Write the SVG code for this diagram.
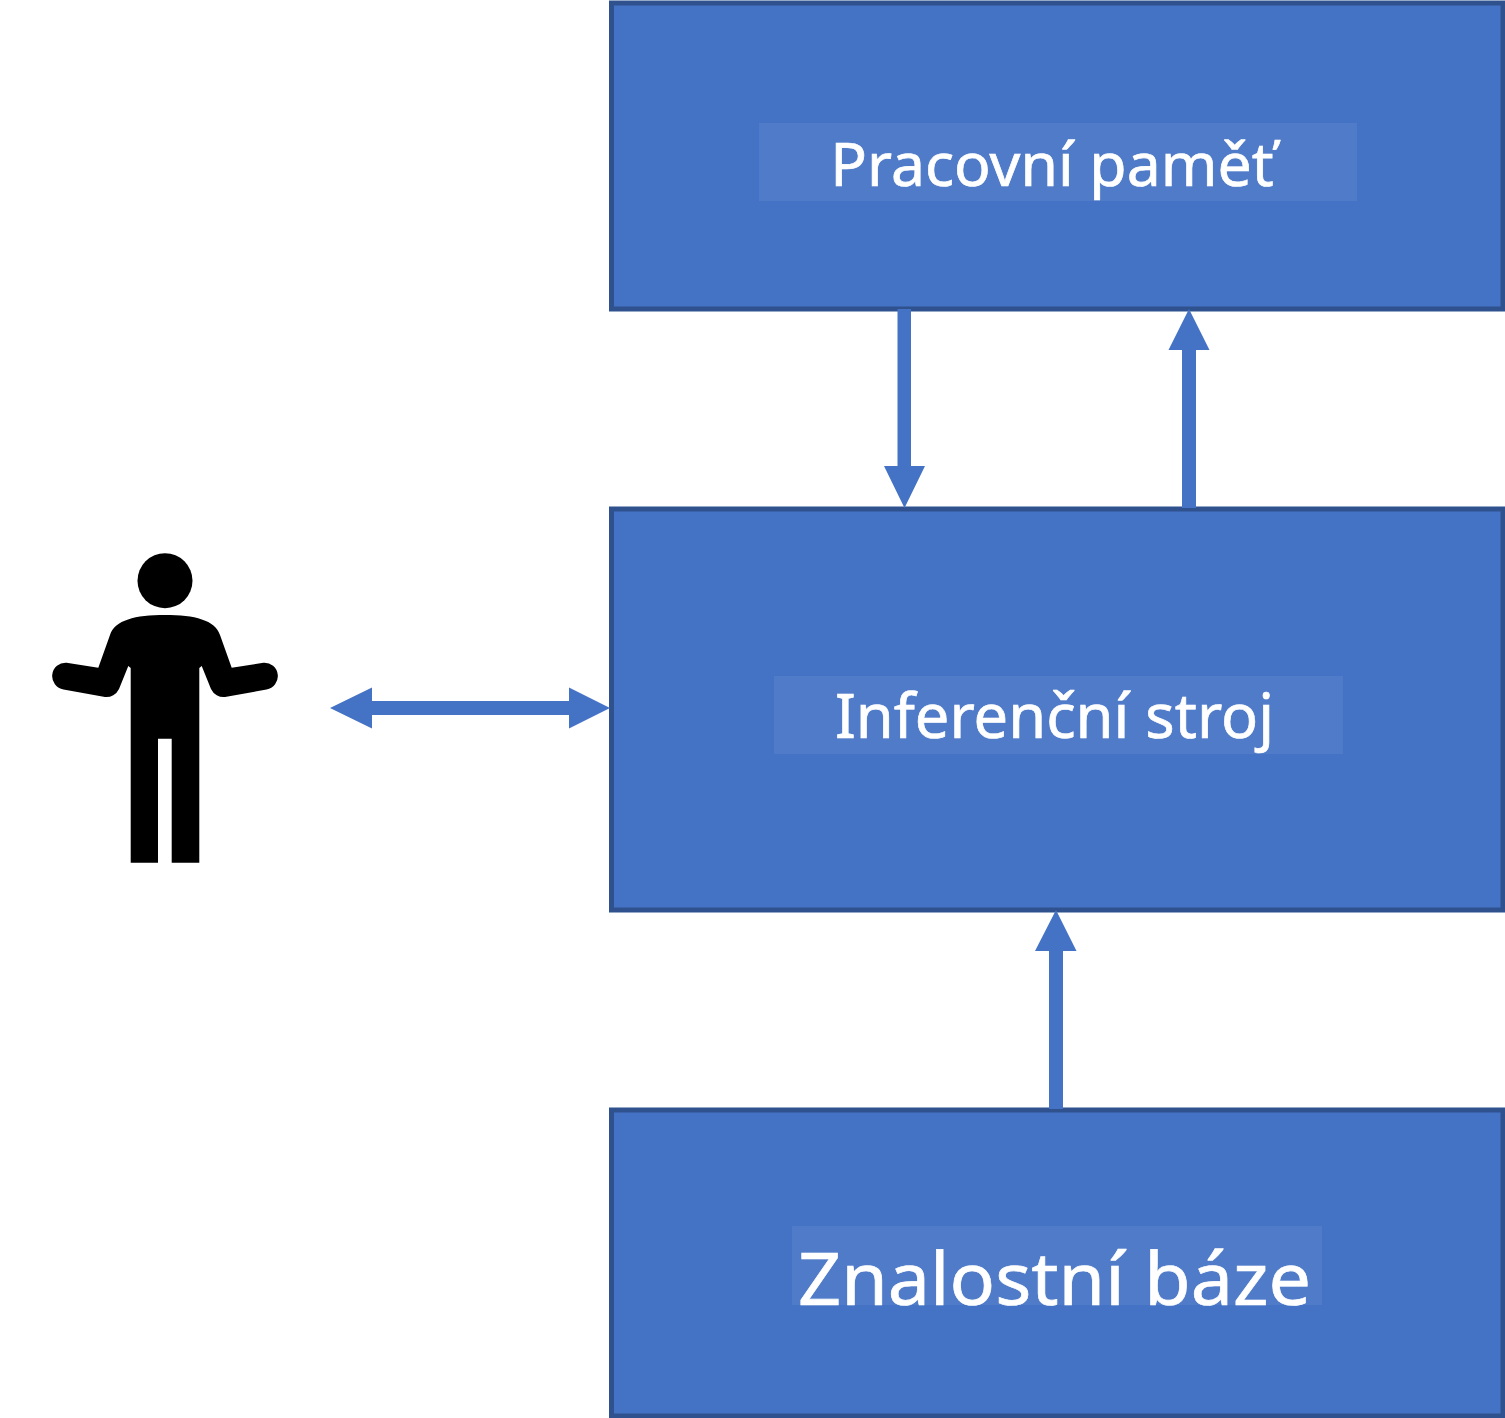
<svg xmlns="http://www.w3.org/2000/svg" width="1505" height="1418" viewBox="0 0 1505 1418">
<style>
.box{fill:#4472c4;stroke:#2f528f;stroke-width:5}
.band{fill:#4f7bc8}
.lbl{font-family:"Noto Sans","Open Sans","Liberation Sans",sans-serif;fill:#fff;text-anchor:middle;stroke:#fff;stroke-width:.7}
.arrow{fill:#4472c4}
</style>
<rect width="1505" height="1418" fill="#fff"/>
<g id="node-working-memory">
<rect class="box" x="611.500" y="3" width="891.500" height="306"/>
<rect class="band" x="759" y="123" width="598" height="78"/>
<text class="lbl" x="1052" y="186" font-size="60.700">Pracovní paměť</text>
</g>
<g id="node-inference-engine">
<rect class="box" x="611.500" y="509" width="891.500" height="401"/>
<rect class="band" x="774" y="676" width="569" height="78"/>
<text class="lbl" x="1054.500" y="738" font-size="61.400">Inferenční stroj</text>
</g>
<g id="node-knowledge-base">
<rect class="box" x="611.500" y="1110" width="891.500" height="306"/>
<rect class="band" x="792" y="1226" width="530" height="79"/>
<text class="lbl" x="1054.500" y="1305" font-size="73" textLength="513" lengthAdjust="spacingAndGlyphs">Znalostní báze</text>
</g>
<g id="node-user">
<circle cx="165" cy="580.700" r="27.500"/>
<path d="M130.700 862.700V668L128.300 666L119 689A14 14 0 0 1 105 697L63.500 689.500A13.500 13.500 0 0 1 66.500 662.700L98.300 667.700L110 635C115 620 135 615 165 615C195 615 215 620 220 635L231.700 667.700L263.500 662.700A13.500 13.500 0 0 1 266.500 689.500L225 697A14 14 0 0 1 211 689L201.700 666L199.300 668V862.700H171.700V738.700H158V862.700Z"/>
</g>
<g id="connectors">
<path id="c1" class="arrow" d="M897.500 309H911V466H925L904.500 508L884 466H897.500Z"/>
<path id="c2" class="arrow" d="M1182 508V350H1168.500L1189 309L1209.500 350H1196V508Z"/>
<path id="c3" class="arrow" d="M1049 1109V951H1035L1056 910L1076.500 951H1063V1109Z"/>
<path id="c4" class="arrow" d="M330 708L372 687.500V701H569V687.500L610 708L569 728.500V715H372V728.500Z"/>
</g>
</svg>
